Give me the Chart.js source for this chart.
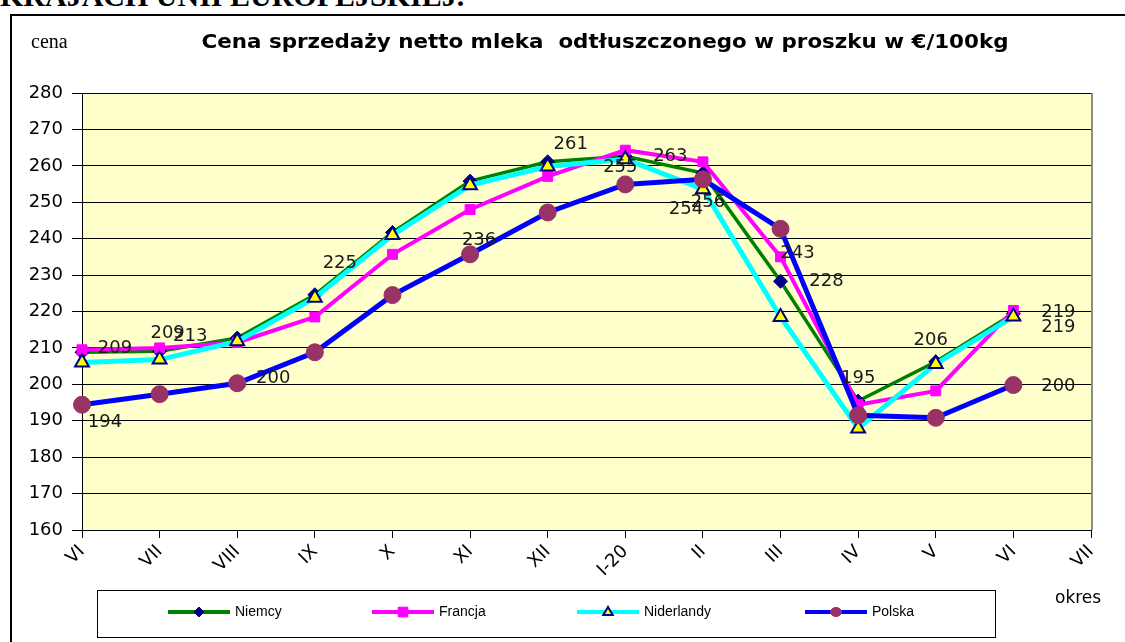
<!DOCTYPE html>
<html>
<head>
<meta charset="utf-8">
<script src="https://cdn.jsdelivr.net/npm/chart.js@4.4.1/dist/chart.umd.min.js"></script>
<style>
  html, body { margin: 0; padding: 0; background: #fff; }
  body { width: 1125px; height: 642px; position: relative; overflow: hidden; }
  #heading { position: absolute; left: 0; top: -21px; font: bold 30px "Liberation Serif", "Times New Roman", serif; color: #000; white-space: nowrap; }
  #frame { position: absolute; left: 10px; top: 14px; width: 1200px; height: 700px; border-left: 2px solid #000; border-top: 2px solid #000; }
  #cena { position: absolute; left: 31px; top: 30px; font: 20px "Liberation Serif", "Times New Roman", serif; color: #000; }
  #okres { position: absolute; left: 1055px; top: 587px; font: 17px "DejaVu Sans", sans-serif; color: #000; }
  #chart { position: absolute; left: 0; top: 0; }
</style>
</head>
<body>
<div id="heading">KRAJACH UNII EUROPEJSKIEJ.</div>
<div id="frame"></div>
<canvas id="chart" width="1125" height="642"></canvas>
<div id="cena">cena</div>
<div id="okres">okres</div>
<script>
const TITLE = 'Cena sprzedaży netto mleka  odtłuszczonego w proszku w €/100kg';

const months = ['VI', 'VII', 'VIII', 'IX', 'X', 'XI', 'XII', 'I-20', 'II', 'III', 'IV', 'V', 'VI', 'VII'];

const niemcy     = [208.8, 209.1, 212.7, 224.6, 241.7, 255.8, 261.1, 262.6, 258.0, 228.3, 195.4, 206.2, 219.4, null];
const francja    = [209.5, 210.0, 211.5, 218.5, 235.7, 248.0, 257.1, 264.3, 261.1, 235.0, 194.4, 198.2, 220.3, null];
const niderlandy = [206.0, 206.8, 211.8, 223.8, 241.0, 254.7, 259.8, 261.8, 253.6, 218.5, 187.9, 205.6, 218.6, null];
const polska     = [194.4, 197.3, 200.3, 208.8, 224.5, 235.7, 247.2, 254.9, 256.3, 242.7, 191.5, 190.8, 199.8, null];

const yTicks = { min: 160, max: 280, step: 10 };

// which points carry a value label: [dataset index, point index, dx, dy]
const labelPlacement = [
    [0, 0, 33, -4], [0, 1, 8, -18], [0, 2, -47, -2], [0, 3, 25, -31],
    [0, 6, 23, -17], [0, 7, 45, 0], [0, 9, 46, 0], [0, 10, 0, -23],
    [0, 11, -5, -21], [0, 12, 45, -1],
    [2, 8, -17, 20], [2, 12, 45, 11],
    [3, 0, 23, 18], [3, 2, 36, -5], [3, 5, 9, -14], [3, 7, -5, -17],
    [3, 8, 5, 23], [3, 9, 17, 24], [3, 12, 45, 1],
];

const FONT = '"DejaVu Sans", "Liberation Sans", sans-serif';
const LEGEND_FONT = '"Liberation Sans", Arial, sans-serif';
const NAVY = '#000080';

function drawMarker(ctx, style, x, y, r, fill, stroke, bw) {
    ctx.save();
    ctx.beginPath();
    if (style === 'rectRot') {
        ctx.moveTo(x, y - r); ctx.lineTo(x + r, y); ctx.lineTo(x, y + r); ctx.lineTo(x - r, y);
    } else if (style === 'rect') {
        ctx.rect(x - r * 0.8, y - r * 0.8, r * 1.6, r * 1.6);
    } else if (style === 'triangle') {
        ctx.moveTo(x, y - r); ctx.lineTo(x + r * 0.95, y + r * 0.6); ctx.lineTo(x - r * 0.95, y + r * 0.6);
    } else {
        ctx.ellipse(x, y, r * 1.1, r * 0.9, 0, 0, Math.PI * 2);
    }
    ctx.closePath();
    ctx.fillStyle = fill;
    ctx.fill();
    if (bw) { ctx.lineWidth = bw; ctx.strokeStyle = stroke; ctx.stroke(); }
    ctx.restore();
}

const plotBackground = {
    id: 'plotBackground',
    beforeDraw(chart) {
        const { ctx, chartArea: a } = chart;
        ctx.save();
        ctx.fillStyle = '#FFFFCC';
        ctx.fillRect(a.left, a.top, a.right - a.left, a.bottom - a.top);
        ctx.restore();
    },
    afterDraw(chart) {
        const { ctx, chartArea: a } = chart;
        ctx.save();
        ctx.strokeStyle = '#8c8c8c';
        ctx.lineWidth = 2;
        ctx.beginPath();
        ctx.moveTo(a.right + 1, a.top);
        ctx.lineTo(a.right + 1, a.bottom);
        ctx.stroke();

        // title, stretched to the width it has in the original
        ctx.fillStyle = '#000';
        ctx.font = 'bold 19px ' + FONT;
        ctx.textAlign = 'center';
        ctx.textBaseline = 'middle';
        const tw = ctx.measureText(TITLE).width;
        ctx.save();
        ctx.translate(605, 43);
        ctx.scale(807 / tw, 1);
        ctx.fillText(TITLE, 0, 0);
        ctx.restore();

        // value labels
        ctx.font = '18px ' + FONT;
        ctx.fillStyle = '#1a1a1a';
        labelPlacement.forEach(([ds, i, dx, dy]) => {
            const pt = chart.getDatasetMeta(ds).data[i];
            const v = chart.data.datasets[ds].data[i];
            ctx.fillText(String(Math.round(v)), pt.x + dx, pt.y + dy);
        });

        // legend
        ctx.strokeStyle = '#000';
        ctx.lineWidth = 1;
        ctx.strokeRect(97.5, 590.5, 898, 47);
        const xs = [168, 372, 577, 805];
        const ly = 612;
        ctx.font = '14px ' + LEGEND_FONT;
        ctx.textAlign = 'left';
        chart.data.datasets.forEach((d, k) => {
            const x0 = xs[k];
            ctx.strokeStyle = d.borderColor;
            ctx.lineWidth = 4;
            ctx.beginPath();
            ctx.moveTo(x0, ly);
            ctx.lineTo(x0 + 62, ly);
            ctx.stroke();
            drawMarker(ctx, d.pointStyle, x0 + 31, ly, d.legendR, d.pointBackgroundColor, d.pointBorderColor, d.pointBorderWidth);
            ctx.fillStyle = '#000';
            ctx.fillText(d.label, x0 + 67, ly);
        });
        ctx.restore();
    }
};

new Chart(document.getElementById('chart'), {
    type: 'line',
    data: {
        labels: months,
        datasets: [
            {
                label: 'Niemcy', data: niemcy, order: 4,
                borderColor: '#008000', borderWidth: 3.5,
                pointStyle: 'rectRot', pointRadius: 7, legendR: 5,
                pointBackgroundColor: NAVY, pointBorderColor: NAVY, pointBorderWidth: 1,
            },
            {
                label: 'Francja', data: francja, order: 3,
                borderColor: '#FF00FF', borderWidth: 4,
                pointStyle: 'rect', pointRadius: 7, legendR: 6,
                pointBackgroundColor: '#FF00FF', pointBorderColor: '#FF00FF', pointBorderWidth: 1,
            },
            {
                label: 'Niderlandy', data: niderlandy, order: 2,
                borderColor: '#00FFFF', borderWidth: 5,
                pointStyle: 'triangle', pointRadius: 8, legendR: 5,
                pointBackgroundColor: '#FFFF00', pointBorderColor: NAVY, pointBorderWidth: 2,
            },
            {
                label: 'Polska', data: polska, order: 1,
                borderColor: '#0000FF', borderWidth: 5,
                pointStyle: 'circle', pointRadius: 8.5, legendR: 5,
                pointBackgroundColor: '#993366', pointBorderColor: '#993366', pointBorderWidth: 1,
            },
        ],
    },
    options: {
        responsive: false,
        animation: false,
        layout: { padding: { left: 0, right: 34, top: 93, bottom: 0 } },
        elements: { line: { tension: 0 } },
        plugins: {
            legend: { display: false },
            tooltip: { enabled: false },
        },
        scales: {
            x: {
                offset: false,
                grid: { drawOnChartArea: false, color: '#000', tickLength: 8 },
                border: { color: '#000', width: 1 },
                ticks: {
                    color: '#000', autoSkip: false, minRotation: 45, maxRotation: 45, padding: 3,
                    font: { family: FONT, size: 18 },
                },
                afterFit: s => { s.height = 112; },
            },
            y: {
                min: yTicks.min, max: yTicks.max,
                grid: { color: '#000', tickLength: 10 },
                border: { color: '#000', width: 1 },
                ticks: {
                    stepSize: yTicks.step, color: '#000', padding: 9,
                    font: { family: FONT, size: 18 },
                },
                afterFit: s => { s.width = 82; },
            },
        },
    },
    plugins: [plotBackground],
});
</script>
</body>
</html>
